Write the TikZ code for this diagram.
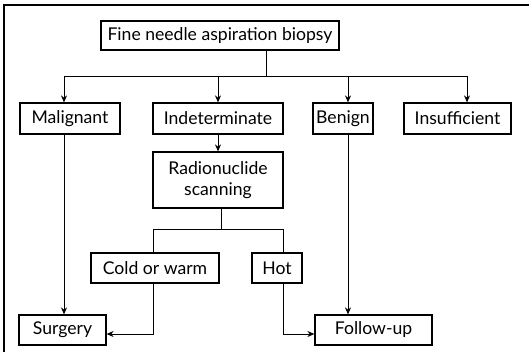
\documentclass[tikz,border=0pt]{standalone}
\usepackage{fontspec}
\setmainfont{Lato}
\usetikzlibrary{arrows.meta}
\begin{document}
\begin{tikzpicture}[x=0.5pt, y=-0.5pt, >={Stealth[length=3.5pt,width=3pt]},
        every node/.style={font=\fontsize{8.8}{10.5}\selectfont},
        box/.style={draw, line width=0.6pt, minimum height=15.5pt, inner sep=1pt, align=center},
        link/.style={line width=0.45pt}]
        \useasboundingbox (0,0) rectangle (529,352);

        % Frame
        \draw[line width=0.6pt] (529,5) -- (4,5) -- (4,352);

        % Biopsy
        \node[box, minimum width=119pt, minimum height=14.5pt] (fnab) at (220,35.5) {Fine needle aspiration biopsy};

        % Results
        \node[box, minimum width=50pt] (mal) at (70,118.5) {Malignant};
        \node[box, minimum width=65pt] (ind) at (218,118.5) {Indeterminate};
        \node[box, minimum width=30pt] (ben) at (343,118.5) {Benign};
        \node[box, minimum width=53.5pt] (ins) at (457.5,118.5) {Insufficient};

        % Scan
        \node[box, minimum width=65pt, minimum height=28pt] (rad) at (218,180) {Radionuclide\\scanning};
        \node[box, minimum width=64pt, minimum height=15pt] (cold) at (155,268) {Cold or warm};
        \node[box, minimum width=25pt, minimum height=15pt] (hot) at (277,268) {Hot};

        % Outcome
        \node[box, minimum width=43.5pt, minimum height=15pt] (surg) at (62.5,330) {Surgery};
        \node[box, minimum width=58.5pt, minimum height=15pt] (fol) at (373.5,330) {Follow-up};

        % Branches from biopsy
        \coordinate (bus) at (266,76);
        \coordinate (mal-top) at (64,76);
        \coordinate (ind-top) at (218,76);
        \coordinate (ben-top) at (348,76);
        \coordinate (ins-top) at (467,76);
        \draw[link] (fnab.south -| bus) -- (bus);
        \draw[link] (mal-top) -- (ins-top);
        \foreach \n in {mal,ind,ben,ins}
            \draw[link, ->] (\n-top) -- (\n-top |- \n.north);

        % Malignant and benign
        \draw[link, ->] (mal-top |- mal.south) -- (mal-top |- surg.north);
        \draw[link, ->] (ben-top |- ben.south) -- (ben-top |- fol.north);
        \draw[link, ->] (ind.south) -- (rad.north);

        % Branches from scan
        \coordinate (scan) at (221,229);
        \coordinate (cold-top) at (153,229);
        \coordinate (hot-top) at (283,229);
        \draw[link] (rad.south -| scan) -- (scan);
        \draw[link] (cold-top) -- (hot-top);
        \draw[link] (cold-top) -- (cold-top |- cold.north);
        \draw[link] (hot-top) -- (hot-top |- hot.north);

        % Scan outcomes
        \coordinate (cold-bot) at (153,334);
        \coordinate (hot-bot) at (283,334);
        \draw[link, ->] (cold-top |- cold.south) -- (cold-bot) -- (cold-bot -| surg.east);
        \draw[link, ->] (hot-top |- hot.south) -- (hot-bot) -- (hot-bot -| fol.west);

    \end{tikzpicture}
\end{document}
